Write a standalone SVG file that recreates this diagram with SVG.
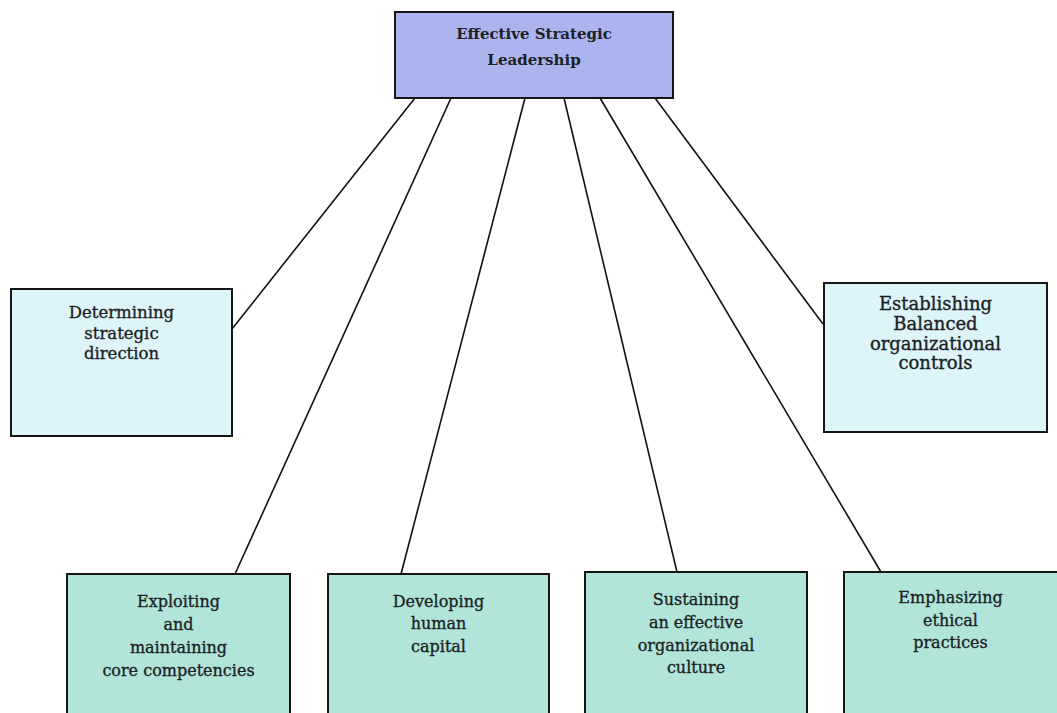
<svg xmlns="http://www.w3.org/2000/svg" width="1057" height="713" viewBox="0 0 1057 713">
<style>
.box{stroke:#151515;stroke-width:2}
.top{fill:#abb4ef}
.side{fill:#ddf4f8}
.bot{fill:#b2e5da}
.conn{stroke:#111;stroke-width:1.6;fill:none}
text{font-family:"DejaVu Serif","Liberation Serif",serif;fill:#1c1f26;stroke:#1c1f26;stroke-width:0.35;text-anchor:middle}
.t1{font-size:15px;font-weight:bold;stroke-width:0}
.t2{font-size:16.5px}
.t3{font-size:18px}
.t4{font-size:16px}
</style>
<rect width="1057" height="713" fill="#ffffff"/>
<g id="connectors">
<line class="conn" x1="415" y1="98" x2="232" y2="329"/>
<line class="conn" x1="451" y1="98" x2="235" y2="574"/>
<line class="conn" x1="525" y1="98" x2="401" y2="574"/>
<line class="conn" x1="564" y1="98" x2="677" y2="572"/>
<line class="conn" x1="600" y1="98" x2="881" y2="572"/>
<line class="conn" x1="655" y1="98" x2="823" y2="324"/>
</g>
<g id="node-top">
<rect class="box top" x="395" y="12" width="278" height="86"/>
<text class="t1" x="534" y="39">Effective Strategic</text>
<text class="t1" x="534" y="65">Leadership</text>
</g>
<g id="node-determining">
<rect class="box side" x="11" y="289" width="221" height="147"/>
<text class="t2" x="121.5" y="318">Determining</text>
<text class="t2" x="121.5" y="339">strategic</text>
<text class="t2" x="121.5" y="359">direction</text>
</g>
<g id="node-establishing">
<rect class="box side" x="824" y="283" width="223" height="149"/>
<text class="t3" x="935.5" y="310">Establishing</text>
<text class="t3" x="935.5" y="330">Balanced</text>
<text class="t3" x="935.5" y="350">organizational</text>
<text class="t3" x="935.5" y="369">controls</text>
</g>
<g id="node-exploiting">
<rect class="box bot" x="67" y="574" width="223" height="160"/>
<text class="t4" x="178.5" y="607">Exploiting</text>
<text class="t4" x="178.5" y="630">and</text>
<text class="t4" x="178.5" y="653">maintaining</text>
<text class="t4" x="178.5" y="676">core competencies</text>
</g>
<g id="node-developing">
<rect class="box bot" x="328" y="574" width="221" height="160"/>
<text class="t4" x="438.5" y="607">Developing</text>
<text class="t4" x="438.5" y="629">human</text>
<text class="t4" x="438.5" y="652">capital</text>
</g>
<g id="node-sustaining">
<rect class="box bot" x="585" y="572" width="222" height="160"/>
<text class="t4" x="696" y="605">Sustaining</text>
<text class="t4" x="696" y="628">an effective</text>
<text class="t4" x="696" y="651">organizational</text>
<text class="t4" x="696" y="673">culture</text>
</g>
<g id="node-emphasizing">
<rect class="box bot" x="844" y="572" width="214" height="160"/>
<text class="t4" x="950.5" y="603">Emphasizing</text>
<text class="t4" x="950.5" y="626">ethical</text>
<text class="t4" x="950.5" y="648">practices</text>
</g>
</svg>
